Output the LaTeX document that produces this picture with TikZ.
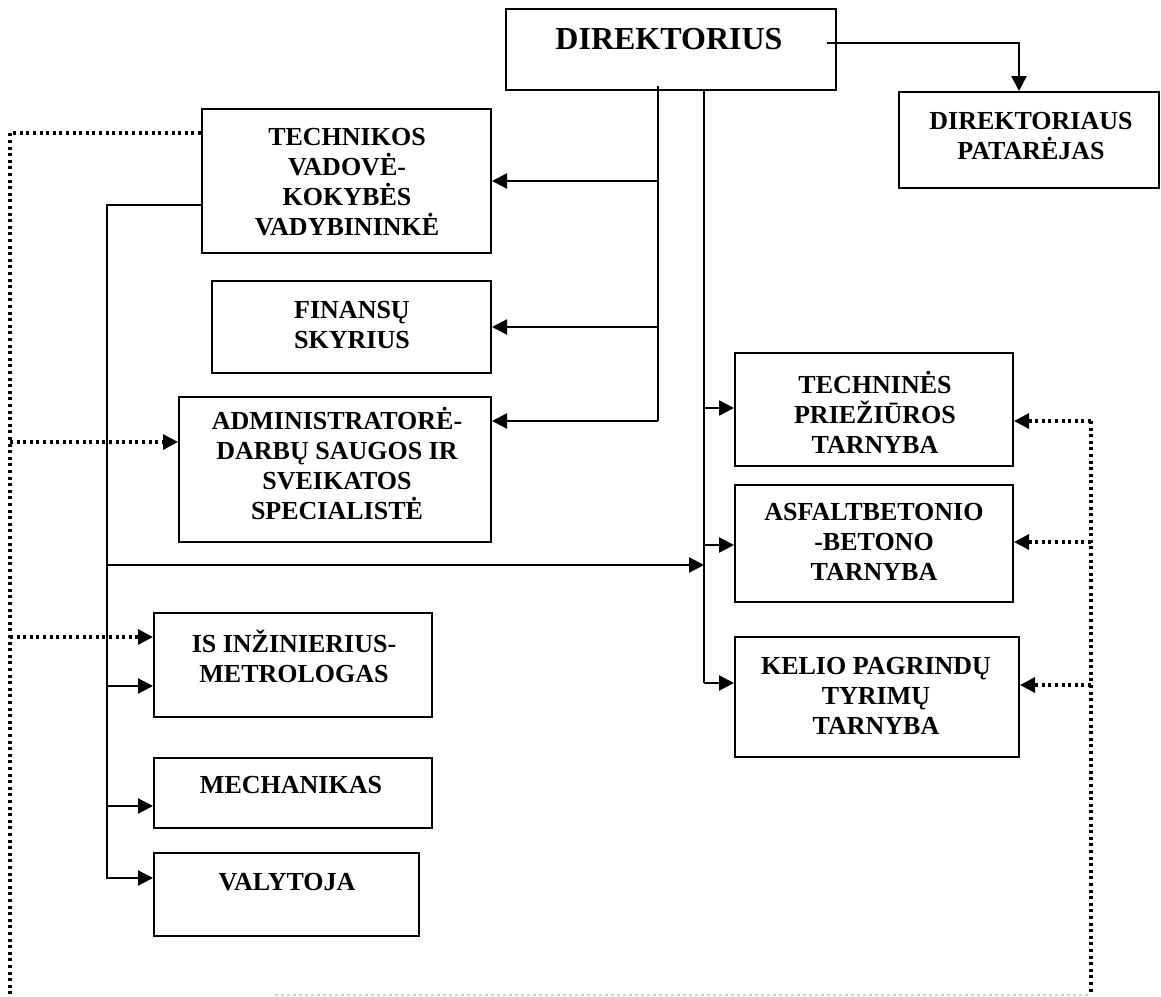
\documentclass[tikz,border=0pt]{standalone}
\usepackage{fontspec}
\setmainfont{Liberation Serif}
\usetikzlibrary{arrows.meta}
\newcommand\txt{\fontsize{26}{30}\selectfont\bfseries}
\newcommand\bigtxt{\fontsize{32}{36}\selectfont\bfseries}
\newcommand\lx{107}
\newcommand\dx{10}
\newcommand\rx{1091}

\tikzset{
  box/.style={draw, line width=2pt, inner sep=0pt},
  lbl/.style={font=\txt, align=center, inner sep=0pt},
  link/.style={line width=2.3pt},
  arr/.style={link, -{Triangle[length=15pt,width=15pt]}},
  dots/.style={line width=3.2pt, dash pattern=on 3pt off 3.6pt},
  darr/.style={dots, -{Triangle[length=15pt,width=15pt]}},
  faint/.style={gray!40, line width=1.2pt, dash pattern=on 3pt off 3pt},
}

\begin{document}
\begin{tikzpicture}[x=1pt, y=-1pt]
  \useasboundingbox (0,0) rectangle (1161,996);
  % boxes
  \node[box, minimum width=330, minimum height=81] (dir) at (671,49.5) {};
  \node[box, minimum width=260, minimum height=96] (pat) at (1029,140) {};
  \node[box, minimum width=289, minimum height=144] (tech) at (346.5,181) {};
  \node[box, minimum width=279, minimum height=92] (fin) at (351.5,327) {};
  \node[box, minimum width=312, minimum height=145] (adm) at (335,469.5) {};
  \node[box, minimum width=278, minimum height=113] (tn) at (874,409.5) {};
  \node[box, minimum width=278, minimum height=117] (as) at (874,543.5) {};
  \node[box, minimum width=284, minimum height=120] (ke) at (877,697) {};
  \node[box, minimum width=278, minimum height=104] (is) at (293,665) {};
  \node[box, minimum width=278, minimum height=70] (mech) at (293,793) {};
  \node[box, minimum width=265, minimum height=83] (val) at (286.5,894.5) {};
  % texts
  \node[lbl, font=\bigtxt] (dirT) at (669,39) {DIREKTORIUS};
  \node[lbl] (patT) at (1031,136) {DIREKTORIAUS\\PATARĖJAS};
  \node[lbl] (techT) at (347,182) {TECHNIKOS\\VADOVĖ-\\KOKYBĖS\\VADYBININKĖ};
  \node[lbl] (finT) at (352,325) {FINANSŲ\\SKYRIUS};
  \node[lbl] (admT) at (337,463) {ADMINISTRATORĖ-\\DARBŲ SAUGOS IR\\SVEIKATOS\\SPECIALISTĖ};
  \node[lbl] (tnT) at (875,412) {TECHNINĖS\\PRIEŽIŪROS\\TARNYBA};
  \node[lbl] (asT) at (874,542) {ASFALTBETONIO\\-BETONO\\TARNYBA};
  \node[lbl] (keT) at (876,696) {KELIO PAGRINDŲ\\TYRIMŲ\\TARNYBA};
  \node[lbl] (isT) at (294,656) {IS INŽINIERIUS-\\METROLOGAS};
  \node[lbl] (mechT) at (291,785) {MECHANIKAS};
  \node[lbl] (valT) at (287,882) {VALYTOJA};

  % director to adviser
  \coordinate (dOut) at (827,43);
  \draw[arr] (dOut) -| ([xshift=-10pt]pat.north);
  % director spines
  \coordinate (sA) at (658,86);
  \coordinate (sAend) at (658,421);
  \coordinate (sB) at (704,90);
  \coordinate (sBend) at (704,683);
  \draw[link] (sA) -- (sAend);
  \draw[arr] (sA |- tech.east) -- (tech.east);
  \draw[arr] (sA |- fin.east) -- (fin.east);
  \draw[arr] (sAend) -- (sAend -| adm.east);
  \draw[line width=1.6pt] (sB) -- (sBend);
  \draw[arr] (sB |- 0,408) -- (tn.west |- 0,408);
  \draw[arr] (sB |- 0,545) -- (as.west |- 0,545);
  \draw[arr] (sBend) -- (sBend -| ke.west);
  % technical head spine
  \coordinate (sC) at (\lx,205);
  \coordinate (sCend) at (\lx,878);
  \draw[arr] (tech.west |- sC) -- (sC) -- (sCend) -- (sCend -| val.west);
  \draw[arr] (\lx,565) -- (sB |- 0,565);
  \draw[arr] (\lx,686) -- (is.west |- 0,686);
  \draw[arr] (\lx,806) -- (mech.west |- 0,806);
  % dotted links
  \coordinate (dL) at (\dx,133);
  \coordinate (dR) at (\rx,421);
  \draw[dots] (tech.west |- dL) -- (dL) -- (\dx,996);
  \draw[darr] (\dx,442) -- (adm.west |- 0,442);
  \draw[darr] (\dx,637) -- (is.west |- 0,637);
  \draw[dots] (dR) -- (\rx,994);
  \draw[darr] (dR) -- (dR -| tn.east);
  \draw[darr] (\rx,542) -- (as.east |- 0,542);
  \draw[darr] (\rx,685) -- (ke.east |- 0,685);
  \draw[faint] (275,995) -- (\rx,995);
\end{tikzpicture}
\end{document}
